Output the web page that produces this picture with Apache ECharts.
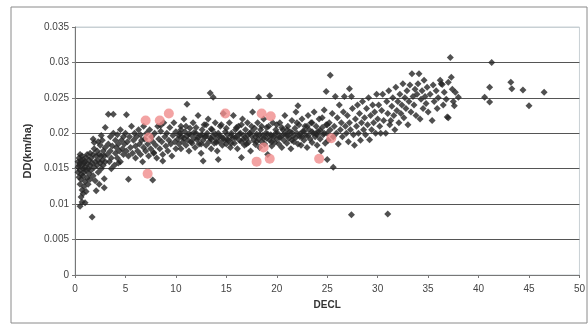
<!DOCTYPE html>
<html lang="en">
<head>
    <meta charset="utf-8">
    <title>DD vs DECL</title>
    <script src="https://cdn.jsdelivr.net/npm/echarts@6/dist/echarts.min.js"></script>
    <style>
        html, body {margin: 0; padding: 0; background: #fff;}
        #main {width: 588px; height: 325px;}
    </style>
</head>
<body>
<div id="main"></div>
<script>
    // axis ticks
    var xTicks = [0, 5, 10, 15, 20, 25, 30, 35, 40, 45, 50];
    var yTicks = [0, 0.005, 0.01, 0.015, 0.02, 0.025, 0.03, 0.035];

    // [DECL, DD], grouped by DECL range
    var pts0to3 = [
        [0.3,.0152],[0.3,.0160],[0.3,.0145],[0.4,.0138],[0.4,.0165],[0.4,.0155],[0.5,.0097],[0.5,.0128],
        [0.5,.0148],[0.5,.0170],[0.5,.0158],[0.6,.0110],[0.6,.0135],[0.6,.0162],[0.6,.0142],[0.7,.0103],
        [0.7,.0120],[0.7,.0155],[0.7,.0168],[0.8,.0115],[0.8,.0140],[0.8,.0150],[0.8,.0163],[0.9,.0125],
        [0.9,.0158],[0.9,.0145],[1.0,.0102],[1.0,.0132],[1.0,.0160],[1.0,.0152],[1.1,.0118],[1.1,.0148],
        [1.1,.0166],[1.2,.0137],[1.2,.0157],[1.2,.0170],[1.3,.0128],[1.3,.0150],[1.4,.0162],[1.4,.0143],
        [1.5,.0155],[1.5,.0172],[1.5,.0135],[1.6,.0148],[1.6,.0165],[1.7,.0082],[1.7,.0158],[1.8,.0140],
        [1.8,.0170],[1.9,.0152],[1.9,.0178],[2.0,.0160],[2.0,.0133],[2.1,.0119],[2.1,.0168],[2.2,.0155],
        [2.2,.0175],[2.3,.0145],[2.3,.0162],[2.4,.0128],[2.4,.0170],[2.5,.0158],[2.5,.0183],[2.6,.0150],
        [2.6,.0168],[2.7,.0162],[2.8,.0175],[2.8,.0155],[2.9,.0136],[2.9,.0123],[2.9,.0168],[3.0,.0160],
        [3.0,.0180],[1.8,.0192],[2.3,.0188],[2.7,.0190],[2.6,.0197],[3.0,.0208],[1.9,.0187]
    ];
    var pts3to10 = [
        [3.2,.0170],[3.3,.0227],[3.3,.0185],[3.4,.0160],[3.5,.0195],[3.5,.0175],[3.6,.0165],[3.7,.0182],
        [3.8,.0227],[3.8,.0200],[3.9,.0155],[4.0,.0172],[4.0,.0190],[4.1,.0180],[4.2,.0165],[4.2,.0198],
        [4.3,.0185],[4.4,.0175],[4.5,.0160],[4.5,.0205],[4.6,.0190],[4.7,.0178],[4.8,.0170],[4.8,.0195],
        [4.9,.0185],[5.0,.0200],[5.1,.0226],[5.1,.0175],[5.2,.0188],[5.3,.0135],[5.3,.0168],[5.4,.0195],
        [5.5,.0180],[5.6,.0210],[5.7,.0172],[5.8,.0190],[5.9,.0200],[6.0,.0182],[6.0,.0165],[4.3,.0158],
        [3.6,.0150],[6.1,.0195],[6.2,.0175],[6.3,.0205],[6.4,.0185],[6.5,.0170],[6.5,.0198],[6.6,.0190],
        [6.7,.0160],[6.8,.0210],[6.8,.0180],[6.9,.0192],[7.0,.0175],[7.1,.0200],[7.2,.0185],[7.3,.0168],
        [7.4,.0205],[7.5,.0178],[7.6,.0195],[7.7,.0134],[7.7,.0188],[7.8,.0172],[7.9,.0200],[8.0,.0183],
        [8.1,.0165],[8.2,.0210],[8.3,.0192],[8.4,.0178],[8.5,.0203],[8.6,.0188],[8.7,.0170],[8.8,.0215],
        [8.9,.0195],[9.0,.0182],[9.1,.0200],[9.2,.0175],[9.3,.0190],[9.4,.0208],[9.5,.0185],[9.6,.0168],
        [9.7,.0197],[9.8,.0215],[9.9,.0188],[10.0,.0202],[10.0,.0178],[8.5,.0211],[8.7,.0161],[7.8,.0173]
    ];
    var pts10to20 = [
        [10.2,.0192],[10.3,.0185],[10.4,.0200],[10.5,.0210],[10.5,.0178],[10.6,.0195],[10.7,.0188],[10.8,.0220],
        [10.9,.0202],[11.0,.0183],[11.1,.0241],[11.1,.0196],[11.2,.0190],[11.3,.0175],[11.4,.0207],[11.5,.0198],
        [11.6,.0186],[11.7,.0215],[11.8,.0193],[11.9,.0180],[12.0,.0200],[12.1,.0191],[12.2,.0225],[12.3,.0185],
        [12.4,.0197],[12.5,.0172],[12.6,.0205],[12.7,.0161],[12.7,.0190],[12.8,.0212],[12.9,.0195],[13.0,.0183],
        [13.1,.0200],[13.2,.0220],[13.3,.0188],[13.4,.0257],[13.4,.0193],[13.5,.0178],[13.6,.0205],[13.7,.0251],
        [13.7,.0197],[13.8,.0186],[13.9,.0215],[14.0,.0192],[14.1,.0175],[14.2,.0163],[14.2,.0200],[14.3,.0188],
        [14.4,.0210],[14.5,.0195],[14.6,.0183],[14.7,.0228],[14.8,.0190],[14.9,.0202],[15.0,.0185],
        [15.1,.0198],[15.2,.0190],[15.3,.0215],[15.4,.0180],[15.5,.0200],[15.6,.0193],[15.7,.0225],[15.8,.0186],
        [15.9,.0205],[16.0,.0195],[16.1,.0178],[16.2,.0210],[16.3,.0190],[16.4,.0200],[16.5,.0166],[16.5,.0188],
        [16.6,.0220],[16.7,.0197],[16.8,.0183],[16.9,.0205],[17.0,.0192],[17.1,.0215],[17.2,.0187],[17.3,.0200],
        [17.4,.0175],[17.5,.0196],[17.6,.0230],[17.7,.0190],[17.8,.0207],[17.9,.0184],[18.0,.0199],[18.1,.0215],
        [18.2,.0251],[18.2,.0192],[18.3,.0180],[18.4,.0205],[18.5,.0188],[18.6,.0197],[18.7,.0220],[18.8,.0185],
        [18.9,.0200],[19.0,.0193],[19.1,.0170],[19.2,.0210],[19.3,.0253],[19.3,.0190],[19.4,.0198],[19.5,.0182],
        [19.6,.0215],[19.7,.0195],[19.8,.0187],[19.9,.0205],[20.0,.0192]
    ];
    var pts20to30 = [
        [20.1,.0200],[20.2,.0185],[20.3,.0215],[20.4,.0195],[20.5,.0180],[20.6,.0205],[20.7,.0190],[20.8,.0225],
        [20.9,.0198],[21.0,.0186],[21.1,.0210],[21.2,.0193],[21.3,.0202],[21.4,.0178],[21.5,.0218],[21.6,.0196],
        [21.7,.0188],[21.8,.0207],[21.9,.0230],[22.0,.0200],[22.1,.0239],[22.1,.0185],[22.2,.0212],[22.3,.0195],
        [22.4,.0183],[22.5,.0220],[22.6,.0203],[22.7,.0190],[22.8,.0210],[22.9,.0197],[23.0,.0180],[23.1,.0225],
        [23.2,.0205],[23.3,.0192],[23.4,.0215],[23.5,.0187],[23.6,.0200],[23.7,.0230],[23.8,.0195],[23.9,.0210],
        [24.0,.0183],[24.1,.0203],[24.2,.0220],[24.3,.0192],[24.4,.0175],[24.5,.0208],[24.6,.0198],[24.7,.0233],
        [24.8,.0186],[24.9,.0259],[24.9,.0212],[25.0,.0163],[25.0,.0200],
        [25.1,.0190],[25.2,.0215],[25.3,.0282],[25.3,.0205],[25.5,.0228],[25.6,.0152],[25.6,.0195],[25.7,.0210],
        [25.8,.0252],[25.9,.0200],[26.0,.0222],[26.1,.0185],[26.2,.0240],[26.3,.0205],[26.4,.0215],[26.5,.0195],
        [26.6,.0230],[26.7,.0252],[26.8,.0210],[26.9,.0200],[27.0,.0225],[27.1,.0188],[27.2,.0263],[27.2,.0215],
        [27.3,.0205],[27.4,.0252],[27.4,.0085],[27.5,.0235],[27.6,.0198],[27.7,.0183],[27.8,.0220],[27.9,.0210],
        [28.0,.0240],[28.1,.0200],[28.2,.0228],[28.3,.0190],[28.4,.0215],[28.5,.0245],[28.6,.0205],[28.7,.0222],
        [28.8,.0198],[28.9,.0235],[29.0,.0212],[29.1,.0250],[29.2,.0191],[29.3,.0225],[29.4,.0205],[29.5,.0240],
        [29.6,.0215],[29.7,.0230],[29.8,.0200],[29.9,.0255],[30.0,.0220]
    ];
    // extra points in the thick middle of the band
    var ptsBand = [
        [10.3,.0197],[10.8,.0193],[11.3,.0199],[11.8,.0201],[12.2,.0194],[12.6,.0198],[13.0,.0196],[13.5,.0192],
        [13.9,.0199],[14.3,.0196],[14.7,.0193],[15.1,.0191],[15.5,.0197],[15.9,.0194],[16.3,.0199],[16.7,.0192],
        [17.1,.0197],[17.5,.0202],[17.9,.0195],[18.3,.0198],[18.7,.0193],[19.1,.0199],[19.5,.0196],[19.9,.0200],
        [20.3,.0194],[20.7,.0199],[21.1,.0197],[21.5,.0201],[21.9,.0194],[22.3,.0199],[22.7,.0203],[23.1,.0197],
        [23.5,.0202],[23.9,.0199],[24.3,.0204],[24.7,.0200],
        [10.5,.0205],[11.0,.0210],[11.5,.0188],[12.0,.0208],[12.5,.0185],[13.0,.0212],[13.5,.0206],[14.0,.0187],
        [14.5,.0212],[15.0,.0207],[15.5,.0186],[16.0,.0208],[16.5,.0212],[17.0,.0185],[17.5,.0210],[18.0,.0188],
        [18.5,.0210],[19.0,.0208],[19.5,.0188],[20.0,.0212],[20.5,.0208],[21.0,.0205],[21.5,.0190],[22.0,.0215],
        [22.5,.0195],[23.0,.0210],[23.5,.0215],[24.0,.0198],[24.5,.0222],[25.0,.0212]
    ];
    var pts30up = [
        [30.1,.0240],[30.2,.0210],[30.3,.0200],[30.4,.0232],[30.5,.0255],[30.6,.0218],[30.8,.0200],[30.9,.0245],
        [31.0,.0086],[31.0,.0228],[31.1,.0260],[31.2,.0212],[31.3,.0218],[31.4,.0238],[31.5,.0250],[31.6,.0225],
        [31.7,.0205],[31.8,.0265],[31.9,.0232],[32.0,.0245],[32.1,.0215],[32.2,.0255],[32.3,.0228],[32.4,.0240],
        [32.5,.0270],[32.6,.0222],[32.7,.0250],[32.8,.0235],[32.9,.0260],[33.0,.0212],[33.1,.0245],[33.2,.0268],
        [33.3,.0230],[33.4,.0284],[33.5,.0252],[33.6,.0240],[33.7,.0262],[33.8,.0225],[33.9,.0255],[34.0,.0270],
        [34.1,.0284],[34.2,.0220],[34.3,.0248],[34.4,.0260],[34.5,.0235],[34.6,.0275],[34.7,.0252],[34.8,.0242],
        [34.9,.0265],[35.0,.0230],
        [35.2,.0255],[35.4,.0218],[35.5,.0268],[35.6,.0245],[35.8,.0260],[35.9,.0235],[36.0,.0250],[36.2,.0275],
        [36.3,.0270],[36.4,.0269],[36.5,.0240],[36.6,.0258],[36.8,.0248],[36.9,.0223],[37.0,.0272],[37.0,.0222],
        [37.2,.0307],[37.3,.0279],[37.4,.0262],[37.6,.0239],[37.7,.0258],[38.0,.0251],[37.5,.0245],
        [40.6,.0251],[41.1,.0265],[41.1,.0244],[41.3,.0300],[43.2,.0272],[43.3,.0263],[44.4,.0261],[45.0,.0239],
        [46.5,.0258]
    ];
    // highlighted (pink) points
    var ptsPink = [
        [7.0,.0218],[8.4,.0218],[9.3,.0228],[7.3,.0194],[7.2,.0143],[14.9,.0228],[18.5,.0228],
        [19.4,.0224],[18.7,.0180],[18.0,.0160],[19.3,.0164],[25.4,.0193],[24.2,.0164]
    ];

    var allDark = [].concat(pts0to3, pts3to10, pts10to20, pts20to30, ptsBand, pts30up);

    var myChart = echarts.init(document.getElementById('main'));
    var font = 'Liberation Sans';

    var option = {
        backgroundColor: '#fff',
        animation: false,
        textStyle: {fontFamily: font},
        graphic: [{
            type: 'rect',
            shape: {x: 11, y: 7, width: 576, height: 316},
            style: {fill: 'none', stroke: '#8a8a8a', lineWidth: 1},
            silent: true
        }],
        grid: {
            left: 75, right: 4, top: 27, bottom: 50,
            show: true, borderColor: '#c8d0d4', borderWidth: 1
        },
        xAxis: {
            type: 'value',
            min: xTicks[0], max: xTicks[xTicks.length - 1], interval: 5,
            name: 'DECL', nameLocation: 'middle', nameGap: 25,
            nameTextStyle: {fontSize: 10, fontWeight: 'bold', color: '#333'},
            axisLine: {lineStyle: {color: '#777'}},
            axisTick: {show: true, length: 3, lineStyle: {color: '#777'}},
            axisLabel: {fontSize: 10, color: '#444', margin: 9},
            splitLine: {show: false}
        },
        yAxis: {
            type: 'value',
            min: yTicks[0], max: yTicks[yTicks.length - 1], interval: 0.005,
            name: 'DD(km/ha)', nameLocation: 'middle', nameGap: 42,
            nameTextStyle: {fontSize: 11, fontWeight: 'bold', color: '#333'},
            axisLine: {show: true, lineStyle: {color: '#777'}},
            axisTick: {show: true, length: 3, lineStyle: {color: '#777'}},
            axisLabel: {fontSize: 10, color: '#444', margin: 6},
            splitLine: {
                show: true,
                lineStyle: {
                    color: ['#777', '#555', '#555', '#555', '#555', '#555', '#555', '#c8d0d4'],
                    width: 1
                }
            }
        },
        series: [
            {
                name: 'DD',
                type: 'scatter',
                data: allDark,
                symbol: 'diamond',
                symbolSize: 7,
                itemStyle: {color: '#242424'},
                z: 2
            },
            {
                name: 'DD highlight',
                type: 'scatter',
                data: ptsPink,
                symbol: 'circle',
                symbolSize: 10,
                itemStyle: {color: '#f08c8c'},
                z: 3
            }
        ]
    };
    myChart.setOption(option);
</script>
</body>
</html>
